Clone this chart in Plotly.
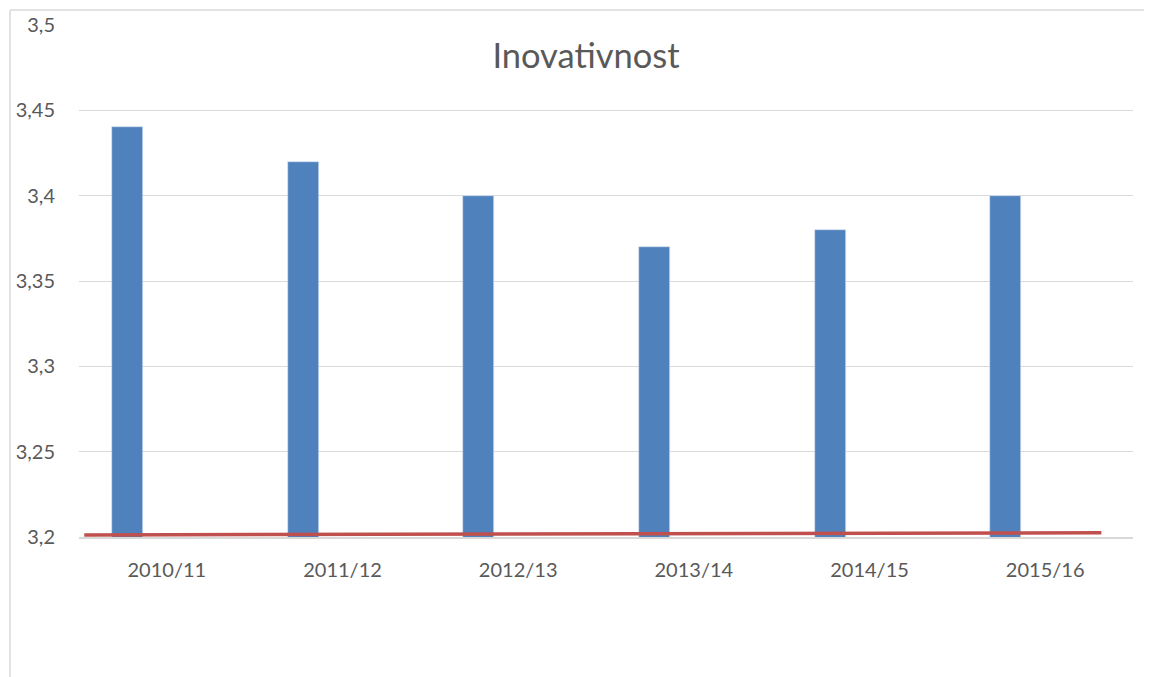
import plotly.graph_objects as go

categories = ["2010/11", "2011/12", "2012/13", "2013/14", "2014/15", "2015/16"]
values = [3.44, 3.42, 3.40, 3.37, 3.38, 3.40]
trend_x = [-0.47, 5.32]
trend_y = [3.2012, 3.2025]
y_ticks = [3.2, 3.25, 3.3, 3.35, 3.4, 3.45, 3.5]

font_family = "Lato, 'Open Sans', sans-serif"

fig = go.Figure()
fig.add_trace(go.Bar(
    x=list(range(len(categories))), y=values, width=0.177, offset=-0.312,
    marker=dict(color="#4F81BD", line=dict(width=0.6, color="#DCE6F2")), showlegend=False,
))
fig.add_trace(go.Scatter(
    x=trend_x, y=trend_y, mode="lines",
    line=dict(color="#C0504D", width=3.5), showlegend=False,
))

fig.update_layout(
    width=1152, height=677,
    margin=dict(l=71, r=27, t=17, b=148),
    paper_bgcolor="white", plot_bgcolor="white",
    separators=", ",
    title=dict(text="Inovativnost", x=(586 - 8) / 1152, xanchor="center", y=1 - 48 / 677, yanchor="middle",
               font=dict(family=font_family, size=34.5, color="#595959")),
    font=dict(family=font_family, color="#595959"),
    xaxis=dict(
        range=[-0.5, 5.5], tickvals=list(range(len(categories))), ticktext=categories,
        showgrid=False, zeroline=False, showline=True, linecolor="#D9D9D9", linewidth=1.5,
        ticks="", ticklabelstandoff=14, tickfont=dict(size=20, color="#595959"),
        automargin=False,
    ),
    yaxis=dict(
        range=[3.2, 3.5], tickvals=y_ticks,
        showgrid=True, gridcolor="#D9D9D9", gridwidth=1, zeroline=False, showline=False,
        ticks="", ticklabelstandoff=23, tickfont=dict(size=20, color="#595959"),
        automargin=False,
    ),
    bargap=0,
    shapes=[
        dict(type="line", xref="paper", yref="paper", x0=-69 / 1054, x1=-69 / 1054,
             y0=-1.5, y1=1 + 15 / 512, line=dict(color="#D9D9D9", width=1.5)),
        dict(type="line", xref="paper", yref="paper", x0=-69 / 1054, x1=1.1,
             y0=1 + 15 / 512, y1=1 + 15 / 512, line=dict(color="#D9D9D9", width=1.5)),
    ],
)

fig.write_html("out.html")
